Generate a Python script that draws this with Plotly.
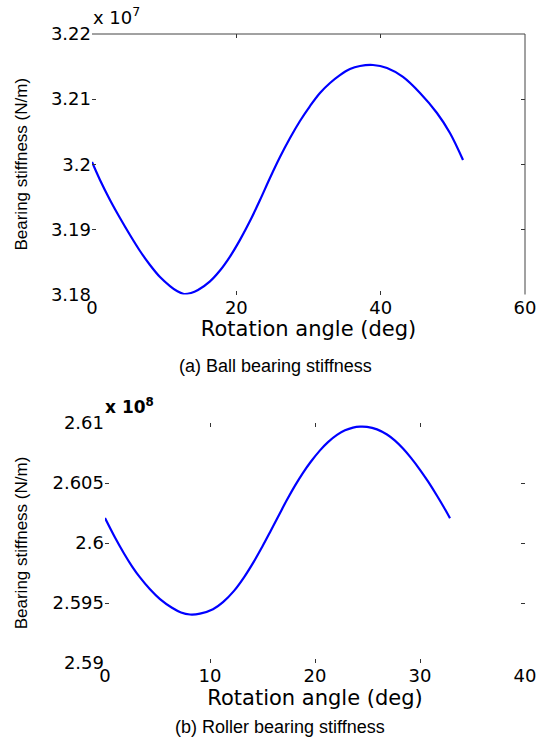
import plotly.graph_objects as go

# ---- data: (a) ball bearing stiffness, units of 1e7 N/m ----
ball_angle = [0, 1.108, 2.494, 3.880, 5.265, 6.651, 8.037, 9.422, 10.808, 11.778, 12.748,
              13.718, 14.688, 16.35, 17.736, 19.12, 20.507, 21.89, 23.28, 24.66, 26.05,
              27.44, 28.82, 30.21, 31.59, 32.98, 34.36, 35.75, 37.13, 38.94, 40.88,
              43.09, 45.45, 47.80, 49.6, 51.41]
ball_stiff = [3.20034, 3.19758, 3.19451, 3.19174, 3.18913, 3.18668, 3.18453, 3.18268,
              3.18130, 3.18053, 3.18007, 3.18023, 3.18069, 3.18202, 3.18368, 3.18582,
              3.18839, 3.19128, 3.19451, 3.19789, 3.20111, 3.20403, 3.20664, 3.20894,
              3.21094, 3.21248, 3.21370, 3.21463, 3.21509, 3.21524, 3.21478, 3.21340,
              3.21094, 3.20787, 3.20480, 3.20065]

# ---- data: (b) roller bearing stiffness, units of 1e8 N/m ----
roller_angle = [0, 0.952, 1.81, 2.571, 3.333, 4.286, 5.238, 6.381, 7.238, 8.095, 9.048,
                10.286, 11.238, 12.286, 13.238, 14.19, 14.952, 15.714, 16.571, 17.333,
                18.095, 18.857, 19.619, 20.476, 21.238, 22.095, 22.857, 23.619, 24.286,
                24.952, 25.905, 26.857, 27.619, 28.381, 29.143, 30.0, 30.762, 31.619,
                32.286, 32.857]
roller_stiff = [2.60208, 2.60046, 2.59913, 2.59806, 2.59713, 2.59614, 2.59532, 2.59460,
                2.59421, 2.59404, 2.59411, 2.59448, 2.59507, 2.59601, 2.59714, 2.59847,
                2.59965, 2.60090, 2.60234, 2.60360, 2.60478, 2.60585, 2.60679, 2.60772,
                2.60841, 2.60901, 2.60939, 2.60962, 2.60970, 2.60968, 2.60947, 2.60904,
                2.60853, 2.60787, 2.60709, 2.60610, 2.60513, 2.60394, 2.60296, 2.60207]

ball_yticks = [3.18, 3.19, 3.2, 3.21, 3.22]
ball_yticktext = ["3.18", "3.19", "3.2", "3.21", "3.22"]
ball_xticks = [0, 20, 40, 60]
roller_yticks = [2.59, 2.595, 2.6, 2.605, 2.61]
roller_yticktext = ["2.59", "2.595", "2.6", "2.605", "2.61"]
roller_xticks = [0, 10, 20, 30, 40]

W, H = 539, 741
def px(x):
    return x / W
def py(y):
    return 1 - y / H

TICKFONT = dict(family="DejaVu Sans", size=18, color="black")
TITLEFONT = dict(family="DejaVu Sans", size=21, color="black")
YTITLEFONT = dict(family="Liberation Sans", size=17, color="black")
CAPFONT = dict(family="Liberation Sans", size=18, color="black")

fig = go.Figure()
fig.add_trace(go.Scatter(x=ball_angle, y=ball_stiff, mode="lines", line_shape="spline",
                         line=dict(color="#0000FF", width=2.2), xaxis="x", yaxis="y",
                         showlegend=False))
fig.add_trace(go.Scatter(x=roller_angle, y=roller_stiff, mode="lines", line_shape="spline",
                         line=dict(color="#0000FF", width=2.2), xaxis="x2", yaxis="y2",
                         showlegend=False))

axcommon = dict(showgrid=False, zeroline=False, showline=False, ticks="inside",
                ticklen=4, tickcolor="#333", mirror="ticks", tickfont=TICKFONT,
                automargin=False)

fig.update_layout(
    width=W, height=H, autosize=False,
    margin=dict(l=0, r=0, t=0, b=0, autoexpand=False),
    paper_bgcolor="white", plot_bgcolor="white",
    xaxis=dict(domain=[px(92), px(525)], anchor="y", range=[0, 60],
               tickvals=ball_xticks, title=dict(text="Rotation angle (deg)", font=TITLEFONT, standoff=2),
               **axcommon),
    yaxis=dict(domain=[py(294.5), py(34)], anchor="x", range=[3.18, 3.22],
               tickvals=ball_yticks, ticktext=ball_yticktext,
               title=dict(text="Bearing stiffness (N/m)", font=YTITLEFONT, standoff=18),
               **axcommon),
    xaxis2=dict(domain=[px(105), px(525)], anchor="y2", range=[0, 40],
                tickvals=roller_xticks, title=dict(text="Rotation angle (deg)", font=TITLEFONT, standoff=2),
                **axcommon),
    yaxis2=dict(domain=[py(663), py(423)], anchor="x2", range=[2.59, 2.61],
                tickvals=roller_yticks, ticktext=roller_yticktext,
                title=dict(text="Bearing stiffness (N/m)", font=YTITLEFONT, standoff=20),
                **axcommon),
)

# frame lines of panel (a): top and right only
fig.add_shape(type="line", xref="x domain", yref="y domain", x0=0, x1=1, y0=1, y1=1,
              line=dict(color="#444", width=1))
fig.add_shape(type="line", xref="x domain", yref="y domain", x0=1, x1=1, y0=0, y1=1,
              line=dict(color="#444", width=1))

fig.add_annotation(text="x 10<sup>7</sup>", xref="paper", yref="paper", x=px(91), y=py(30),
                   xanchor="left", yanchor="bottom", showarrow=False,
                   font=dict(family="DejaVu Sans", size=18, color="black"))
fig.add_annotation(text="<b>x 10<sup>8</sup></b>", xref="paper", yref="paper", x=px(103), y=py(419),
                   xanchor="left", yanchor="bottom", showarrow=False,
                   font=dict(family="DejaVu Sans", size=17, color="black"))
fig.add_annotation(text="(a) Ball bearing stiffness", xref="paper", yref="paper",
                   x=px(275), y=py(366), xanchor="center", yanchor="middle", showarrow=False,
                   font=CAPFONT)
fig.add_annotation(text="(b) Roller bearing stiffness", xref="paper", yref="paper",
                   x=px(280), y=py(727), xanchor="center", yanchor="middle", showarrow=False,
                   font=CAPFONT)

fig.write_html("out.html")
